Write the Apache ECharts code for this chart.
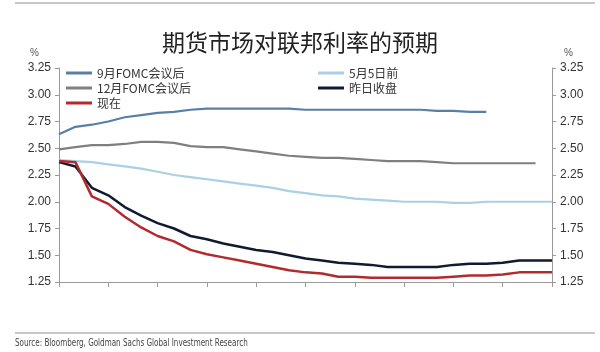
<!DOCTYPE html>
<html><head><meta charset="utf-8">
<script src="https://cdn.jsdelivr.net/npm/echarts@6/dist/echarts.min.js"></script>
<style>html,body{margin:0;padding:0;background:#fff}#c{width:600px;height:352px}</style>
</head><body><div id="c"></div>
<script>
var categories = [];
for (var k = 0; k < 31; k++) categories.push(String(k + 1));
var yTicks = ['1.25','1.50','1.75','2.00','2.25','2.50','2.75','3.00','3.25'];
var names = ['9月FOMC会议后','12月FOMC会议后','现在','5月5日前','昨日收盘'];
var sepFomc = [2.63,2.70,2.72,2.75,2.79,2.81,2.83,2.84,2.86,2.87,2.87,2.87,2.87,2.87,2.87,2.86,2.86,2.86,2.86,2.86,2.86,2.86,2.86,2.85,2.85,2.84,2.84,null,null,null,null];
var decFomc = [2.49,2.51,2.53,2.53,2.54,2.56,2.56,2.55,2.52,2.51,2.51,2.49,2.47,2.45,2.43,2.42,2.41,2.41,2.40,2.39,2.38,2.38,2.38,2.37,2.36,2.36,2.36,2.36,2.36,2.36,null];
var nowVals = [2.38,2.37,2.05,1.98,1.86,1.76,1.68,1.63,1.55,1.51,1.48,1.45,1.42,1.39,1.36,1.34,1.33,1.30,1.30,1.29,1.29,1.29,1.29,1.29,1.30,1.31,1.31,1.32,1.34,1.34,1.34];
var beforeMay5 = [2.39,2.38,2.37,2.35,2.33,2.31,2.28,2.25,2.23,2.21,2.19,2.17,2.15,2.13,2.10,2.08,2.06,2.05,2.03,2.02,2.01,2.00,2.00,2.00,1.99,1.99,2.00,2.00,2.00,2.00,2.00];
var lastClose = [2.37,2.33,2.13,2.06,1.95,1.87,1.80,1.75,1.68,1.65,1.61,1.58,1.55,1.53,1.50,1.47,1.45,1.43,1.42,1.41,1.39,1.39,1.39,1.39,1.41,1.42,1.42,1.43,1.45,1.45,1.45];

var colors = ['#5a7fa6','#7f7f7f','#b22a2e','#a9d0e4','#0e1b30'];
var seriesData = [sepFomc, decFomc, nowVals, beforeMay5, lastClose];

var chart = echarts.init(document.getElementById('c'), null, {renderer:'canvas'});
var axisCol = '#9a9a9a';
function yAxis(pos) {
  return {
    type: 'value', position: pos, min: 1.25, max: 3.25, interval: 0.25,
    name: '%', nameLocation: 'end', nameGap: 10,
    nameTextStyle: {color: '#555', fontSize: 10, fontFamily: 'Liberation Sans', align: pos === 'left' ? 'right' : 'left', padding: pos === 'left' ? [0, 20, 0, 0] : [0, 0, 0, 12]},
    axisLine: {show: true, lineStyle: {color: axisCol}},
    axisTick: {show: true, length: 4, lineStyle: {color: axisCol}},
    splitLine: {show: false},
    axisLabel: {color: '#333', fontSize: 12, fontFamily: 'Liberation Sans', margin: 8,
      formatter: function (v) { return yTicks[Math.round((v - 1.25) / 0.25)]; }}
  };
}
var series = names.map(function (n, i) {
  return {
    name: n, type: 'line', data: seriesData[i], yAxisIndex: 0,
    symbol: 'none', smooth: false, connectNulls: false,
    lineStyle: {color: colors[i], width: i === 4 || i === 2 ? 2.5 : 2.2},
    itemStyle: {color: colors[i]}, z: 10 - i
  };
});
var legendText = {color: '#333', fontSize: 12, fontFamily: 'Noto Sans CJK SC'};
chart.setOption({
  animation: false,
  title: {text: '期货市场对联邦利率的预期', left: 'center', top: 26,
    textStyle: {fontSize: 23, fontWeight: 'normal', color: '#222', fontFamily: 'Noto Sans CJK SC'}},
  grid: {left: 59, right: 48, top: 68, bottom: 70},
  legend: [
    {data: names.slice(0, 3), orient: 'vertical', left: 66, top: 67, itemGap: 3, itemWidth: 26, itemHeight: 3, icon: 'rect', textStyle: legendText, padding: 0},
    {data: names.slice(3), orient: 'vertical', left: 318, top: 67, itemGap: 3, itemWidth: 26, itemHeight: 3, icon: 'rect', textStyle: legendText, padding: 0}
  ],
  xAxis: {type: 'category', data: categories, boundaryGap: false,
    axisLine: {show: true, lineStyle: {color: axisCol}},
    axisTick: {show: true, interval: 2, length: 5, lineStyle: {color: axisCol}},
    axisLabel: {show: false}, splitLine: {show: false}},
  yAxis: [yAxis('left'), yAxis('right')],
  series: series,
  graphic: [
    {type: 'line', shape: {x1: 15, y1: 3, x2: 595, y2: 3}, style: {stroke: '#b5b5b5', lineWidth: 1.5}},
    {type: 'line', shape: {x1: 15, y1: 333, x2: 595, y2: 333}, style: {stroke: '#b5b5b5', lineWidth: 1.5}},
    {type: 'text', x: 15, y: 338, scaleX: 0.8, style: {text: 'Source: Bloomberg, Goldman Sachs Global Investment Research', fill: '#444', fontSize: 10, fontFamily: '"DejaVu Sans Condensed", "Liberation Sans", sans-serif'}}
  ]
});
</script></body></html>
